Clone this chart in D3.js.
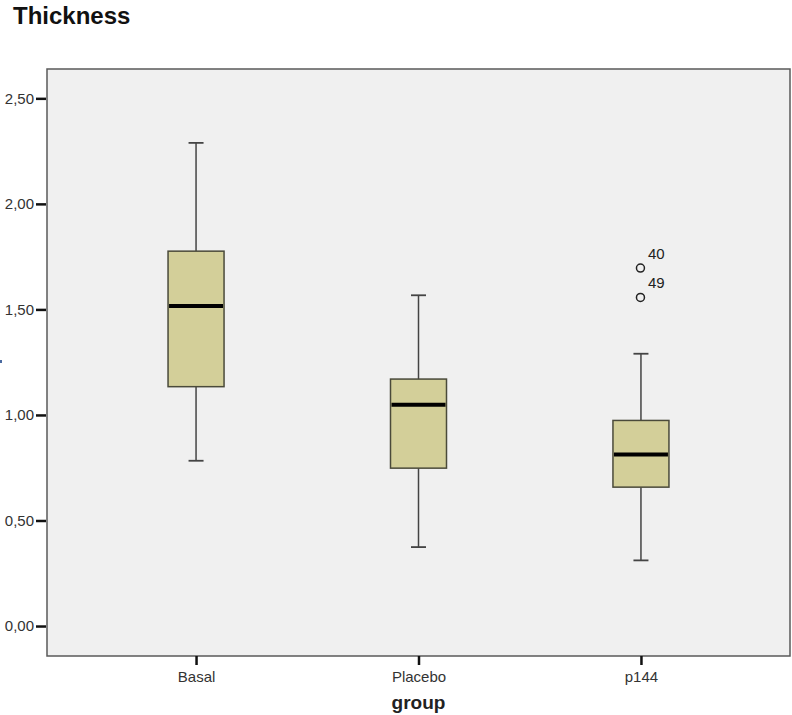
<!DOCTYPE html>
<html>
<head>
<meta charset="utf-8">
<script src="https://cdn.jsdelivr.net/npm/d3@7"></script>
<style>
  html, body { margin: 0; padding: 0; background: #ffffff; }
  svg { display: block; }
</style>
</head>
<body>
<svg id="chart" width="792" height="715"></svg>
<script>
// ---- data ----
const categories = ["Basal", "Placebo", "p144"];
const whiskerLow  = [0.783, 0.374, 0.311];
const q1Values    = [1.134, 0.748, 0.658];
const medians     = [1.516, 1.048, 0.813];
const q3Values    = [1.776, 1.170, 0.974];
const whiskerHigh = [2.289, 1.567, 1.290];
const outlierGroup = ["p144", "p144"];
const outlierValue = [1.696, 1.557];
const outlierLabel = ["40", "49"];
const yTicks = [0, 0.5, 1.0, 1.5, 2.0, 2.5];
const chartTitle = "Thickness";
const xTitle = "group";

// ---- layout ----
const svg = d3.select("#chart");
const plot = { left: 47, right: 790, top: 69, bottom: 656 };

const x = d3.scalePoint()
  .domain(categories)
  .range([plot.left, plot.right])
  .padding(0.67);

const y = d3.scaleLinear()
  .domain([-0.142, 2.639])
  .range([plot.bottom, plot.top]);

// title
svg.append("text")
  .attr("x", 13).attr("y", 24)
  .attr("font-family", "'Liberation Sans', Arial, sans-serif")
  .attr("font-weight", "bold")
  .attr("font-size", 24)
  .attr("fill", "#111")
  .text(chartTitle);

// plot background
svg.append("rect")
  .attr("x", plot.left).attr("y", plot.top)
  .attr("width", plot.right - plot.left)
  .attr("height", plot.bottom - plot.top)
  .attr("fill", "#f0f0f0")
  .attr("stroke", "#5a5a5a")
  .attr("stroke-width", 1.5);

// y axis
const yAxis = d3.axisLeft(y)
  .tickValues(yTicks)
  .tickSize(10)
  .tickPadding(2)
  .tickFormat(d => d3.format(".2f")(d).replace(".", ","));
const yg = svg.append("g")
  .attr("transform", `translate(${plot.left - 1},0)`)
  .call(yAxis);
yg.select(".domain").remove();
yg.selectAll(".tick line").attr("stroke", "#111").attr("stroke-width", 2.5);
yg.selectAll(".tick text")
  .attr("font-family", "'Liberation Sans', Arial, sans-serif")
  .attr("font-size", 15)
  .attr("fill", "#333");

// x axis
const xAxis = d3.axisBottom(x).tickSize(9).tickPadding(6);
const xg = svg.append("g")
  .attr("transform", `translate(0,${plot.bottom})`)
  .call(xAxis);
xg.select(".domain").remove();
xg.selectAll(".tick line").attr("stroke", "#111").attr("stroke-width", 2.5);
xg.selectAll(".tick text")
  .attr("font-family", "'Liberation Sans', Arial, sans-serif")
  .attr("font-size", 15)
  .attr("fill", "#333");

// x title
svg.append("text")
  .attr("x", x("Placebo")).attr("y", 709)
  .attr("text-anchor", "middle")
  .attr("font-family", "'Liberation Sans', Arial, sans-serif")
  .attr("font-weight", "bold")
  .attr("font-size", 19)
  .attr("fill", "#222")
  .text(xTitle);

// small left-edge artifact (cut-off y label)
svg.append("rect")
  .attr("x", 0).attr("y", 360).attr("width", 2).attr("height", 3)
  .attr("fill", "#4a6aa0");

// boxes
const boxes = categories.map((c, i) => ({
  c, lo: whiskerLow[i], q1: q1Values[i], med: medians[i], q3: q3Values[i], hi: whiskerHigh[i]
}));
const boxW = 56, capW = 15;
const g = svg.append("g");
const bg = g.selectAll("g.box").data(boxes).join("g").attr("class", "box");

// whiskers
bg.append("line")
  .attr("x1", d => x(d.c)).attr("x2", d => x(d.c))
  .attr("y1", d => y(d.hi)).attr("y2", d => y(d.q3))
  .attr("stroke", "#444").attr("stroke-width", 1.5);
bg.append("line")
  .attr("x1", d => x(d.c)).attr("x2", d => x(d.c))
  .attr("y1", d => y(d.q1)).attr("y2", d => y(d.lo))
  .attr("stroke", "#444").attr("stroke-width", 1.5);
// caps
bg.append("line")
  .attr("x1", d => x(d.c) - capW / 2).attr("x2", d => x(d.c) + capW / 2)
  .attr("y1", d => y(d.hi)).attr("y2", d => y(d.hi))
  .attr("stroke", "#444").attr("stroke-width", 1.8);
bg.append("line")
  .attr("x1", d => x(d.c) - capW / 2).attr("x2", d => x(d.c) + capW / 2)
  .attr("y1", d => y(d.lo)).attr("y2", d => y(d.lo))
  .attr("stroke", "#444").attr("stroke-width", 1.8);
// box
bg.append("rect")
  .attr("x", d => x(d.c) - boxW / 2)
  .attr("y", d => y(d.q3))
  .attr("width", boxW)
  .attr("height", d => y(d.q1) - y(d.q3))
  .attr("fill", "#d3cf99")
  .attr("stroke", "#4a4a3a")
  .attr("stroke-width", 1.5);
// median
bg.append("line")
  .attr("x1", d => x(d.c) - boxW / 2 + 1).attr("x2", d => x(d.c) + boxW / 2 - 1)
  .attr("y1", d => y(d.med)).attr("y2", d => y(d.med))
  .attr("stroke", "#000").attr("stroke-width", 4);

// outliers
const outliers = outlierValue.map((v, i) => ({ g: outlierGroup[i], v, lab: outlierLabel[i] }));
svg.selectAll("circle.out").data(outliers).join("circle")
  .attr("class", "out")
  .attr("cx", d => x(d.g) - 0.5)
  .attr("cy", d => y(d.v))
  .attr("r", 4)
  .attr("fill", "none")
  .attr("stroke", "#222")
  .attr("stroke-width", 1.5);
svg.selectAll("text.outlab").data(outliers).join("text")
  .attr("class", "outlab")
  .attr("x", d => x(d.g) + 7)
  .attr("y", d => y(d.v) - 9)
  .attr("font-family", "'Liberation Sans', Arial, sans-serif")
  .attr("font-size", 15)
  .attr("fill", "#222")
  .text(d => d.lab);
</script>
</body>
</html>
